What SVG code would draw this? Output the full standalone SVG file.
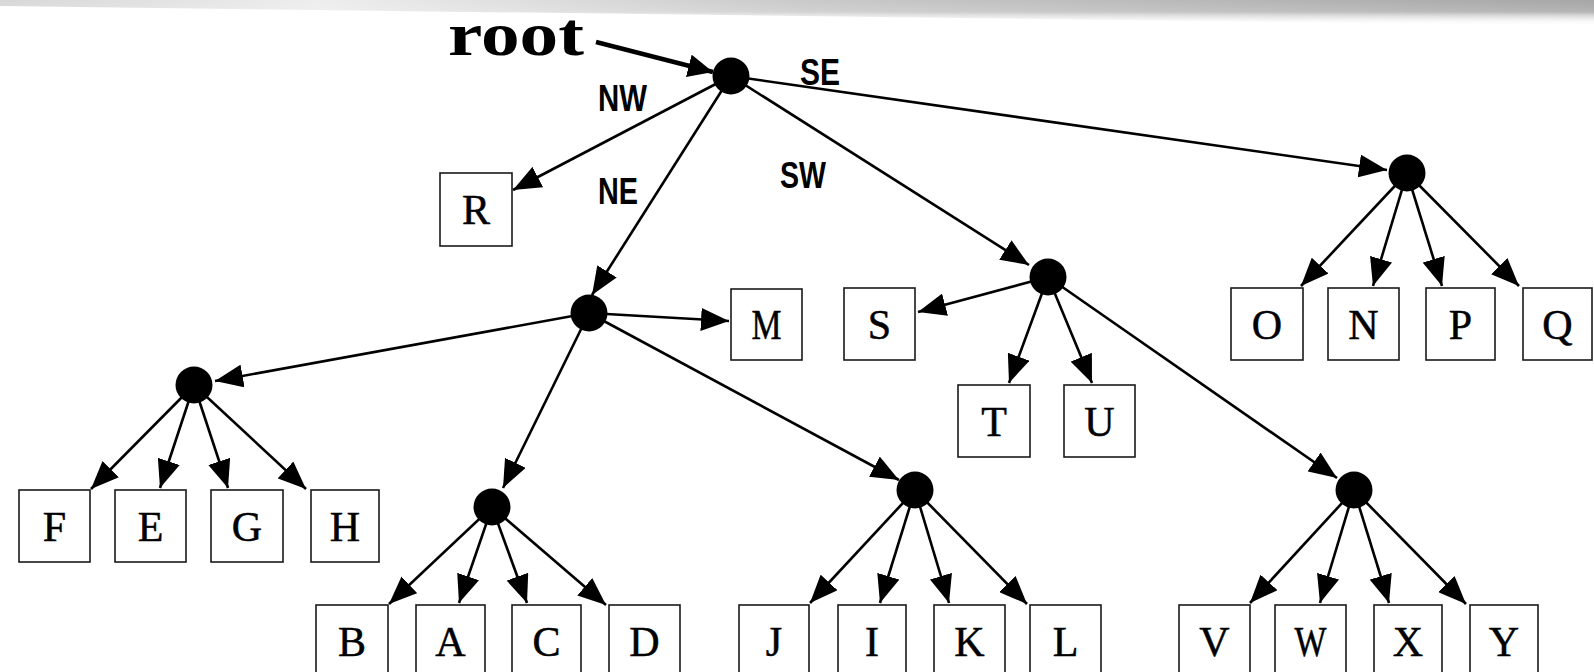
<svg xmlns="http://www.w3.org/2000/svg" width="1594" height="672" viewBox="0 0 1594 672">
<style>
.box{fill:#fff;stroke:#1a1a1a;stroke-width:1.6}
.lt{font-family:"Liberation Serif","Times New Roman",serif;font-size:42px;fill:#000;stroke:#000;stroke-width:0.5;text-anchor:middle}
.dot{fill:#000}
.e{fill:none;stroke:#000;stroke-width:2.6;marker-end:url(#ah)}
.lab{font-family:"Liberation Sans",Arial,sans-serif;font-weight:bold;font-size:36px;fill:#000}
</style>
<defs>
<marker id="ah" viewBox="0 0 28 23" refX="28" refY="11.5" markerWidth="28" markerHeight="23" markerUnits="userSpaceOnUse" orient="auto"><path d="M0,0 L28,11.5 L0,23 z" fill="#000"/></marker>
<marker id="ahr" viewBox="0 0 25 23" refX="25" refY="11.5" markerWidth="25" markerHeight="23" markerUnits="userSpaceOnUse" orient="auto"><path d="M0,0 L25,11.5 L0,23 z" fill="#000"/></marker>
<linearGradient id="sh" x1="0" y1="0" x2="0" y2="26" gradientUnits="userSpaceOnUse"><stop offset="0" stop-color="#a6a6a6"/><stop offset="0.45" stop-color="#b4b4b4"/><stop offset="1" stop-color="#fff" stop-opacity="0"/></linearGradient>
<linearGradient id="mh" x1="0" y1="0" x2="1594" y2="0" gradientUnits="userSpaceOnUse"><stop offset="0" stop-color="#fff" stop-opacity="0.45"/><stop offset="0.2" stop-color="#fff" stop-opacity="0.2"/><stop offset="0.5" stop-color="#fff" stop-opacity="0.6"/><stop offset="1" stop-color="#fff" stop-opacity="1"/></linearGradient>
<mask id="m"><rect x="0" y="0" width="1594" height="30" fill="url(#mh)"/></mask>
</defs>
<rect width="1594" height="672" fill="#fff"/>
<path d="M0,0 H1594 V26 L0,6 z" fill="url(#sh)" mask="url(#m)"/>

<g id="connectors">
<path d="M596,42 L713,72" fill="none" stroke="#000" stroke-width="4.4" marker-end="url(#ahr)"/>
<path class="e" d="M731,76 L513,190"/>
<path class="e" d="M731,76 L592,295"/>
<path class="e" d="M731,76 L1029,265"/>
<path class="e" d="M731,76 L1387,170"/>
<path class="e" d="M589,313 L729,321"/>
<path class="e" d="M589,313 L215,381"/>
<path class="e" d="M589,313 L503,488"/>
<path class="e" d="M589,313 L899,480"/>
<path class="e" d="M1048,277 L918,312"/>
<path class="e" d="M1048,277 L1009,383"/>
<path class="e" d="M1048,277 L1092,383"/>
<path class="e" d="M1048,277 L1337,478"/>
<path class="e" d="M1407,173 L1301,286"/>
<path class="e" d="M1407,173 L1373,286"/>
<path class="e" d="M1407,173 L1442,286"/>
<path class="e" d="M1407,173 L1519,286"/>
<path class="e" d="M194,385 L91,489"/>
<path class="e" d="M194,385 L160,488"/>
<path class="e" d="M194,385 L228,488"/>
<path class="e" d="M194,385 L306,489"/>
<path class="e" d="M492,507 L389,604"/>
<path class="e" d="M492,507 L459,603"/>
<path class="e" d="M492,507 L527,603"/>
<path class="e" d="M492,507 L606,605"/>
<path class="e" d="M915,490 L810,603"/>
<path class="e" d="M915,490 L880,603"/>
<path class="e" d="M915,490 L949,603"/>
<path class="e" d="M915,490 L1027,604"/>
<path class="e" d="M1354,490 L1250,603"/>
<path class="e" d="M1354,490 L1320,603"/>
<path class="e" d="M1354,490 L1389,603"/>
<path class="e" d="M1354,490 L1466,604"/>
</g>

<g id="labels">
<text x="448" y="55" font-family="'Liberation Serif','Times New Roman',serif" font-weight="bold" font-size="62" textLength="136" lengthAdjust="spacingAndGlyphs">root</text>
<text class="lab" x="598" y="111" textLength="49" lengthAdjust="spacingAndGlyphs">NW</text>
<text class="lab" x="598" y="204" textLength="40" lengthAdjust="spacingAndGlyphs">NE</text>
<text class="lab" x="800" y="85" textLength="40" lengthAdjust="spacingAndGlyphs">SE</text>
<text class="lab" x="780" y="188" textLength="46" lengthAdjust="spacingAndGlyphs">SW</text>
</g>

<g id="n-root"><circle class="dot" cx="731" cy="76" r="18.5"/></g>
<g id="n-se"><circle class="dot" cx="1407" cy="173" r="18.5"/></g>
<g id="n-ne"><circle class="dot" cx="589" cy="313" r="18.5"/></g>
<g id="n-sw"><circle class="dot" cx="1048" cy="277" r="18.5"/></g>
<g id="n-fh"><circle class="dot" cx="194" cy="385" r="18.5"/></g>
<g id="n-bd"><circle class="dot" cx="492" cy="507" r="18.5"/></g>
<g id="n-jl"><circle class="dot" cx="915" cy="490" r="18.5"/></g>
<g id="n-vy"><circle class="dot" cx="1354" cy="490" r="18.5"/></g>

<g id="R"><rect class="box" x="440" y="173" width="72" height="73"/><text class="lt" x="476" y="224">R</text></g>
<g id="M"><rect class="box" x="731" y="289" width="71" height="71"/><text class="lt" x="766.5" y="339" textLength="30" lengthAdjust="spacingAndGlyphs">M</text></g>
<g id="S"><rect class="box" x="844" y="288" width="71" height="72"/><text class="lt" x="879.5" y="339">S</text></g>
<g id="O"><rect class="box" x="1231" y="288" width="72" height="72"/><text class="lt" x="1267" y="339">O</text></g>
<g id="N"><rect class="box" x="1328" y="288" width="71" height="72"/><text class="lt" x="1363.5" y="339">N</text></g>
<g id="P"><rect class="box" x="1426" y="288" width="69" height="72"/><text class="lt" x="1460.5" y="339">P</text></g>
<g id="Q"><rect class="box" x="1523" y="288" width="69" height="72"/><text class="lt" x="1557.5" y="339">Q</text></g>
<g id="T"><rect class="box" x="958" y="385" width="72" height="72"/><text class="lt" x="994" y="436">T</text></g>
<g id="U"><rect class="box" x="1064" y="385" width="71" height="72"/><text class="lt" x="1099.5" y="436">U</text></g>
<g id="F"><rect class="box" x="19" y="490" width="71" height="72"/><text class="lt" x="54.5" y="541">F</text></g>
<g id="E"><rect class="box" x="115" y="490" width="71" height="72"/><text class="lt" x="150.5" y="541">E</text></g>
<g id="G"><rect class="box" x="211" y="490" width="72" height="72"/><text class="lt" x="247" y="541">G</text></g>
<g id="H"><rect class="box" x="311" y="490" width="68" height="72"/><text class="lt" x="345" y="541">H</text></g>
<g id="B"><rect class="box" x="316" y="605" width="72" height="72"/><text class="lt" x="352" y="656">B</text></g>
<g id="A"><rect class="box" x="416" y="605" width="69" height="72"/><text class="lt" x="450.5" y="656">A</text></g>
<g id="C"><rect class="box" x="512" y="605" width="69" height="72"/><text class="lt" x="546.5" y="656">C</text></g>
<g id="D"><rect class="box" x="609" y="605" width="71" height="72"/><text class="lt" x="644.5" y="656">D</text></g>
<g id="J"><rect class="box" x="739" y="605" width="70" height="72"/><text class="lt" x="774" y="656">J</text></g>
<g id="I"><rect class="box" x="838" y="605" width="68" height="72"/><text class="lt" x="872" y="656">I</text></g>
<g id="K"><rect class="box" x="934" y="605" width="71" height="72"/><text class="lt" x="969.5" y="656">K</text></g>
<g id="L"><rect class="box" x="1030" y="605" width="71" height="72"/><text class="lt" x="1065.5" y="656">L</text></g>
<g id="V"><rect class="box" x="1179" y="605" width="71" height="72"/><text class="lt" x="1214.5" y="656">V</text></g>
<g id="W"><rect class="box" x="1275" y="605" width="71" height="72"/><text class="lt" x="1310.5" y="656" textLength="32" lengthAdjust="spacingAndGlyphs">W</text></g>
<g id="X"><rect class="box" x="1374" y="605" width="68" height="72"/><text class="lt" x="1408" y="656">X</text></g>
<g id="Y"><rect class="box" x="1470" y="605" width="68" height="72"/><text class="lt" x="1504" y="656">Y</text></g>
</svg>
